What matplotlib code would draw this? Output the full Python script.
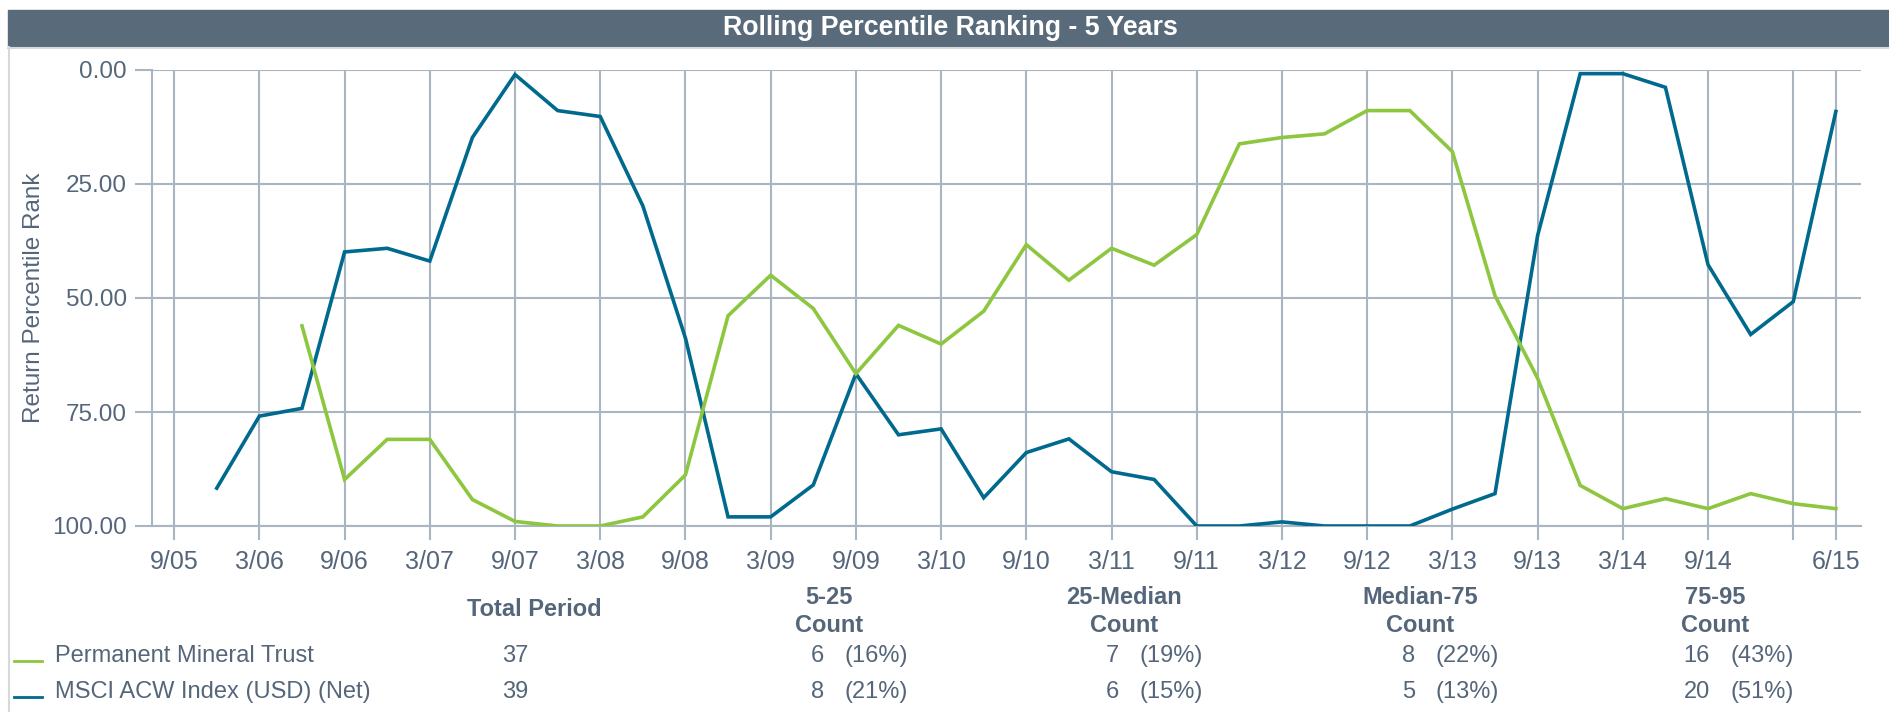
import matplotlib
matplotlib.use("Agg")
import matplotlib.pyplot as plt
from matplotlib.patches import Rectangle
from matplotlib.lines import Line2D
import numpy as np

plt.rcParams['font.family'] = ['Liberation Sans', 'DejaVu Sans']

# quarter ends shown on the x axis
quarters = ["9/05", "12/05", "3/06", "6/06", "9/06", "12/06", "3/07", "6/07", "9/07", "12/07",
            "3/08", "6/08", "9/08", "12/08", "3/09", "6/09", "9/09", "12/09", "3/10", "6/10",
            "9/10", "12/10", "3/11", "6/11", "9/11", "12/11", "3/12", "6/12", "9/12", "12/12",
            "3/13", "6/13", "9/13", "12/13", "3/14", "6/14", "9/14", "12/14", "3/15", "6/15"]

# MSCI starts 12/05, Permanent Mineral Trust starts 6/06
msci_start = "12/05"
msci = [91.7, 75.9, 74.2, 39.9, 39.1, 41.9, 14.8, 1.0, 8.9, 10.2,
        29.8, 58.8, 98.0, 98.0, 91.0, 66.6, 80.0, 78.7, 93.8, 83.9,
        80.9, 88.1, 89.8, 100.0, 100.0, 99.1, 100.0, 100.0, 100.0, 96.3,
        92.9, 36.3, 0.8, 0.8, 3.8, 42.7, 58.0, 50.8, 9.1]
pmt_start = "6/06"
pmt = [56.1, 89.8, 81.0, 81.0, 94.2, 99.0, 100.0, 100.0, 98.0, 88.8,
       53.9, 45.0, 52.3, 66.6, 56.0, 60.1, 52.9, 38.3, 46.1, 39.1,
       42.8, 36.1, 16.2, 14.8, 14.0, 8.9, 8.9, 17.9, 49.5, 67.6,
       91.1, 96.2, 94.0, 96.2, 92.9, 95.1, 96.2]

tick_labels = ["9/05", "3/06", "9/06", "3/07", "9/07", "3/08", "9/08", "3/09", "9/09", "3/10",
               "9/10", "3/11", "9/11", "3/12", "9/12", "3/13", "9/13", "3/14", "9/14", "3/15", "6/15"]
hidden_labels = ["3/15"]
y_ticks = [0, 25, 50, 75, 100]

series_names = ["Permanent Mineral Trust", "MSCI ACW Index (USD) (Net)"]
total_period = [37, 39]
bucket_names = ["5-25", "25-Median", "Median-75", "75-95"]
bucket_counts = [[6, 7, 8, 16], [8, 6, 5, 20]]
bucket_pcts = [[16, 19, 22, 43], [21, 15, 13, 51]]

green = "#8dc63f"
blue = "#006a8e"
grid_c = "#aab5c2"
text_c = "#55667a"
bar_c = "#596b7b"

W, H = 1890, 712
fig = plt.figure(figsize=(W / 100, H / 100), dpi=100)

def fx(px):
    return px / W

def fy(py):
    return 1 - py / H

# title bar + panel border
fig.patches.append(Rectangle((fx(8), fy(46)), 1 - fx(8), fy(10) - fy(46),
                             transform=fig.transFigure, color=bar_c, zorder=0))
fig.lines.append(Line2D([fx(8), 1], [fy(47.5), fy(47.5)], transform=fig.transFigure,
                        color="#d6d9dc", lw=1.5))
fig.lines.append(Line2D([fx(9), fx(9)], [fy(47), 0], transform=fig.transFigure,
                        color="#d6d9dc", lw=1.5))
fig.text(fx(950), fy(28), "Rolling Percentile Ranking - 5 Years", color="white",
         fontsize=19.3, fontweight="bold", ha="center", va="center")

ax = fig.add_axes([fx(152), fy(526), fx(1861) - fx(152), fy(70) - fy(526)])

xi = np.arange(len(quarters))
i0 = quarters.index(msci_start)
ax.plot(xi[i0:i0 + len(msci)], msci, color=blue, lw=2.6, solid_joinstyle="miter", zorder=3)
i1 = quarters.index(pmt_start)
ax.plot(xi[i1:i1 + len(pmt)], pmt, color=green, lw=2.6, solid_joinstyle="miter", zorder=3)

ax.set_xlim(-0.52, 39.59)
ax.set_ylim(100, 0)

tick_pos = [quarters.index(t) for t in tick_labels]
ax.set_xticks(tick_pos)
ax.set_xticklabels(["" if t in hidden_labels else t for t in tick_labels])
ax.set_yticks(y_ticks)
ax.set_yticklabels(["%.2f" % v for v in y_ticks])
ax.grid(True, color=grid_c, lw=1.5, zorder=1)
ax.set_axisbelow(True)

for s in ["top", "right"]:
    ax.spines[s].set_visible(False)
for s in ["left", "bottom"]:
    ax.spines[s].set_color(grid_c)
    ax.spines[s].set_linewidth(1.5)

ax.tick_params(axis="x", colors=grid_c, labelcolor=text_c, labelsize=18, length=10, width=1.5, pad=7)
ax.tick_params(axis="y", colors=grid_c, labelcolor=text_c, labelsize=17.5, length=12, width=1.5, pad=6)
ax.set_ylabel("Return Percentile Rank", color=text_c, fontsize=17.5, labelpad=5)

# summary table under the chart
fig.text(fx(534), fy(610), "Total Period", color=text_c, fontsize=17, fontweight="bold",
         ha="center", va="center")
col_centers = [829, 1124, 1420, 1715]
for c, name in zip(col_centers, bucket_names):
    fig.text(fx(c), fy(597), name, color=text_c, fontsize=17, fontweight="bold",
             ha="center", va="center")
    fig.text(fx(c), fy(625), "Count", color=text_c, fontsize=17, fontweight="bold",
             ha="center", va="center")

row_y = [656, 692]
line_cols = [green, blue]
for r in range(len(series_names)):
    y = row_y[r]
    fig.lines.append(Line2D([fx(14), fx(42)], [fy(y + 5), fy(y + 5)], transform=fig.transFigure,
                            color=line_cols[r], lw=2))
    fig.text(fx(55), fy(y), series_names[r], color=text_c, fontsize=17, ha="left", va="center")
    fig.text(fx(515), fy(y), str(total_period[r]), color=text_c, fontsize=17,
             ha="center", va="center")
    for c, n, p in zip(col_centers, bucket_counts[r], bucket_pcts[r]):
        fig.text(fx(c - 5), fy(y), str(n), color=text_c, fontsize=17, ha="right", va="center")
        fig.text(fx(c + 16), fy(y), "(%d%%)" % p, color=text_c, fontsize=17, ha="left", va="center")

fig.savefig("out.png", dpi=100)
